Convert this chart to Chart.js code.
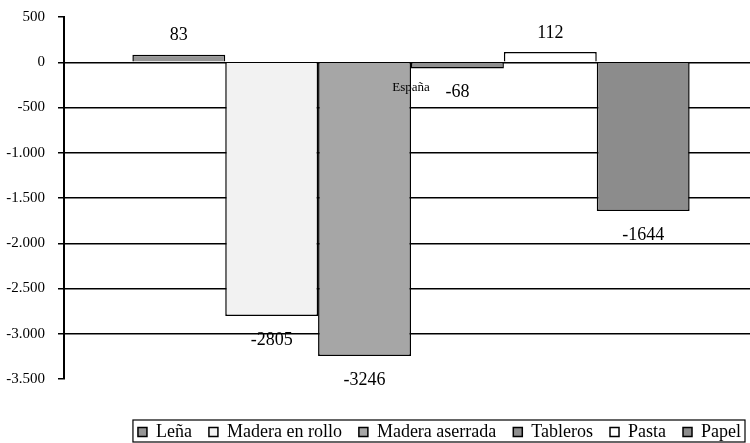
<!DOCTYPE html>
<html>
<head>
<meta charset="utf-8">
<script src="https://cdn.jsdelivr.net/npm/chart.js@4/dist/chart.umd.min.js"></script>
<style>
  html, body { margin: 0; padding: 0; background: #fff; overflow: hidden; }
  #wrap { position: relative; width: 760px; height: 443px; }
</style>
</head>
<body>
<div id="wrap"><canvas id="chart"></canvas></div>
<script>
const categories = ["España"];
const seriesNames = ["Leña", "Madera en rollo", "Madera aserrada", "Tableros", "Pasta", "Papel"];
const seriesValues = [83, -2805, -3246, -68, 112, -1644];
const seriesColors = ["#959595", "#f2f2f2", "#a6a6a6", "#8f8f8f", "#ffffff", "#8c8c8c"];
const yTicks = [500, 0, -500, -1000, -1500, -2000, -2500, -3000, -3500];

const serif = "'Liberation Serif', 'Times New Roman', serif";

function fmt(v) {
    const s = String(Math.abs(v)).replace(/\B(?=(\d{3})+(?!\d))/g, '.');
    return (v < 0 ? '-' : '') + s;
}

// etiquetas de valor encima / debajo de cada barra
const valueLabels = {
    id: 'valueLabels',
    afterDatasetsDraw(chart) {
        const ctx = chart.ctx;
        ctx.save();
        ctx.font = '18px ' + serif;
        ctx.fillStyle = '#000';
        ctx.textAlign = 'center';
        ctx.textBaseline = 'middle';
        chart.data.datasets.forEach((ds, i) => {
            chart.getDatasetMeta(i).data.forEach((bar, j) => {
                const v = ds.data[j];
                const y = v >= 0 ? bar.y - 19 : bar.y + 24;
                ctx.fillText(String(v), bar.x, y);
            });
        });
        ctx.restore();
    }
};

// marco alrededor de la leyenda
const legendFrame = {
    id: 'legendFrame',
    afterDraw(chart) {
        const boxes = chart.legend.legendHitBoxes;
        if (!boxes || !boxes.length) return;
        const left = Math.min(...boxes.map(b => b.left)) - 5;
        const right = Math.max(...boxes.map(b => b.left + b.width)) + 4;
        const top = Math.min(...boxes.map(b => b.top)) - 3;
        const bottom = Math.max(...boxes.map(b => b.top + b.height)) + 1;
        const ctx = chart.ctx;
        ctx.save();
        ctx.strokeStyle = '#000';
        ctx.lineWidth = 1.2;
        ctx.strokeRect(left, top, right - left, bottom - top);
        ctx.restore();
    }
};

new Chart(document.getElementById('chart'), {
    type: 'bar',
    data: {
        labels: categories,
        datasets: seriesNames.map((name, i) => ({
            label: name,
            data: [seriesValues[i]],
            backgroundColor: seriesColors[i],
            borderColor: '#000',
            borderWidth: 1.5,
            barPercentage: 1,
            categoryPercentage: 0.803
        }))
    },
    options: {
        responsive: true,
        maintainAspectRatio: false,
        animation: false,
        layout: { padding: { top: 17, left: 0, right: 2, bottom: -8 } },
        plugins: {
            tooltip: { enabled: false },
            legend: {
                position: 'bottom',
                align: 'end',
                title: { display: true, text: ' ', font: { size: 10 }, padding: { top: 15, bottom: 0 } },
                labels: {
                    font: { family: serif, size: 18 },
                    color: '#000',
                    boxWidth: 9,
                    boxHeight: 9,
                    padding: 17
                }
            }
        },
        scales: {
            x: {
                type: 'category',
                position: { y: 0 },
                offset: true,
                grid: { display: false, drawTicks: false },
                border: { display: false },
                ticks: { font: { family: serif, size: 13 }, color: '#000', padding: 18, z: 1 }
            },
            y: {
                min: -3500,
                max: 500,
                afterBuildTicks(scale) { scale.ticks = yTicks.map(v => ({ value: v })); },
                afterFit(scale) {
                    scale.width = 64;
                    scale.paddingTop = 8;
                    scale.paddingBottom = 8;
                },
                grid: {
                    color: c => (c.tick && (c.tick.value === 500 || c.tick.value === -3500)) ? 'rgba(0,0,0,0)' : '#000',
                    tickColor: '#000',
                    lineWidth: 1.5,
                    tickLength: 6
                },
                border: { color: '#000', width: 2 },
                ticks: {
                    font: { family: serif, size: 15 },
                    color: '#000',
                    padding: 13,
                    callback: v => fmt(v)
                }
            }
        }
    },
    plugins: [valueLabels, legendFrame]
});
</script>
</body>
</html>
